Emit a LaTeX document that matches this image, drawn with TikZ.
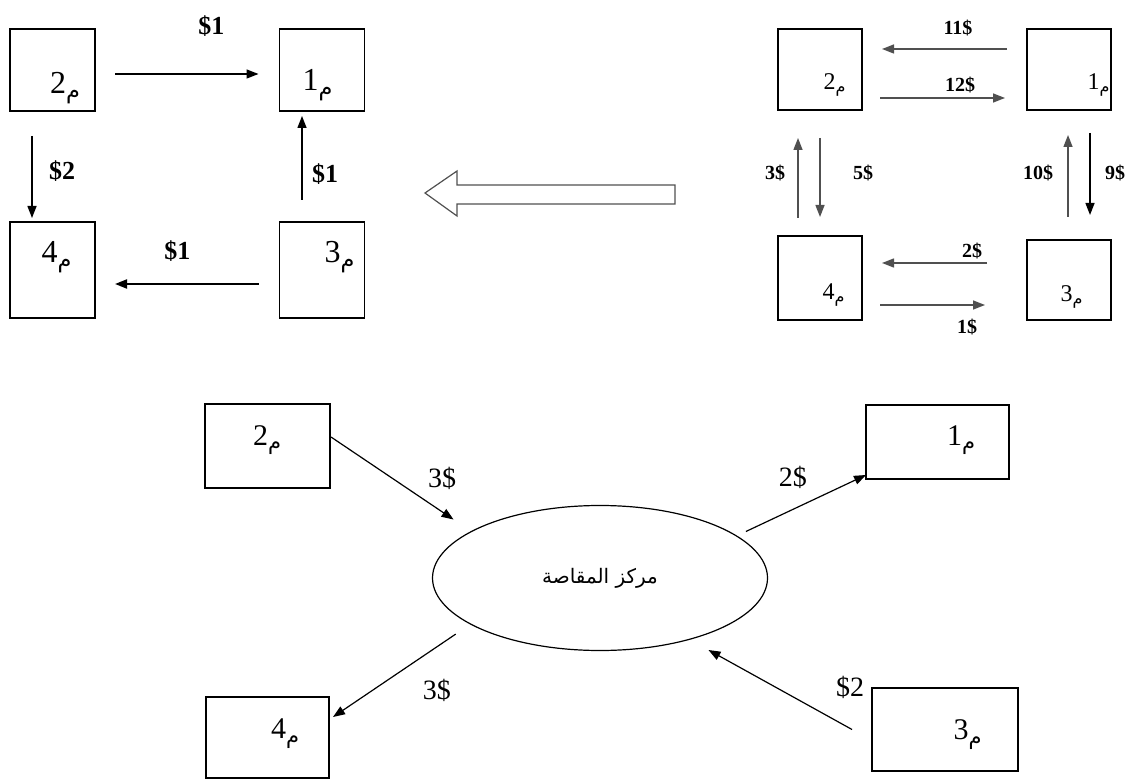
\documentclass[tikz,border=0pt]{standalone}
\usepackage{amsmath}
\usepackage{fontspec}
\setmainfont{Liberation Serif}
\newfontfamily\arabicfont[Script=Arabic]{DejaVu Sans}
\TeXXeTstate=1
\usetikzlibrary{positioning,arrows.meta,shapes.geometric}
\definecolor{arrcol}{RGB}{80,80,80}
\newcommand\mlab[1]{#1$_{\text{\arabicfont م}}$}

\begin{document}
\begin{tikzpicture}[x=0.5pt, y=-0.5pt,
  box/.style 2 args={rectangle, draw, line width=0.8pt, inner sep=0pt, outer sep=0pt,
              minimum width=#1, minimum height=#2},
  ar/.style={-{Triangle[length=6pt,width=4.5pt]}, line width=0.7pt, #1},
  lb/.style={inner sep=0pt, text=black, font=#1}
]
\useasboundingbox (0,0) rectangle (1134,780);

% left: netting result
\node[box={42.5pt}{41pt}, label={[lb=\fontsize{16}{18}\selectfont, shift={(13,18)}]center:\mlab{2}}] (l2) at (52.5,70) {};
\node[box={42.5pt}{41pt}, label={[lb=\fontsize{16}{18}\selectfont, shift={(-4,15)}]center:\mlab{1}}] (l1) at (322,70) {};
\node[box={42.5pt}{48pt}, label={[lb=\fontsize{16}{18}\selectfont, shift={(4.5,-13)}]center:\mlab{4}}] (l4) at (52.5,270) {};
\node[box={42.5pt}{48pt}, label={[lb=\fontsize{16}{18}\selectfont, shift={(18,-13)}]center:\mlab{3}}] (l3) at (322,270) {};

\draw[ar=black] ([shift={(20,4)}]l2.east) -- node[lb=\fontsize{13}{15}\selectfont\bfseries, shift={(24.5,-48)}] {\$1} ([shift={(-21,4)}]l1.west);
\draw[ar=black] ([shift={(-20.5,25)}]l2.south) -- node[lb=\fontsize{13}{15}\selectfont\bfseries, shift={(30,-6)}] {\$2} ([shift={(-20.5,-4)}]l4.north);
\draw[ar=black] ([shift={(-20,-22)}]l3.north) -- node[lb=\fontsize{13}{15}\selectfont\bfseries, shift={(23,16)}] {\$1} ([shift={(-20,5)}]l1.south);
\draw[ar=black, line width=1pt] ([shift={(-21,14)}]l3.west) -- node[lb=\fontsize{13}{15}\selectfont\bfseries, shift={(-9.5,-33)}] {\$1} ([shift={(20,14)}]l4.east);

% hollow arrow
\draw[arrcol, line width=0.6pt] (675,185) -- (457,185) -- (457,171) -- (425,193)
  -- (457,216) -- (457,204) -- (675,204) -- cycle;

% right: gross payments
\node[box={42pt}{40.5pt}, label={[lb=\fontsize{12}{14}\selectfont, shift={(15,15.5)}]center:\mlab{2}}] (r2) at (820,69.5) {};
\node[box={42pt}{40.5pt}, label={[lb=\fontsize{12}{14}\selectfont, shift={(30,15.5)}]center:\mlab{1}}] (r1) at (1069,69.5) {};
\node[box={42pt}{42pt}, label={[lb=\fontsize{12}{14}\selectfont, shift={(14,17)}]center:\mlab{4}}] (r4) at (820,278) {};
\node[box={42pt}{40pt}, label={[lb=\fontsize{12}{14}\selectfont, shift={(3,17)}]center:\mlab{3}}] (r3) at (1069,280) {};

\draw[ar=arrcol] ([shift={(-20,-20.5)}]r1.west) -- node[lb=\fontsize{10}{12}\selectfont\bfseries, shift={(13.5,-21)}] {11\$} ([shift={(20,-20.5)}]r2.east);
\draw[ar=arrcol] ([shift={(18,28.5)}]r2.east) -- node[lb=\fontsize{10}{12}\selectfont\bfseries, shift={(17.5,-13)}] {12\$} ([shift={(-22,28.5)}]r1.west);
\draw[ar=arrcol] ([shift={(-22,-18)}]r4.north) -- node[lb=\fontsize{10}{12}\selectfont\bfseries, shift={(-23,-5)}] {3\$} ([shift={(-22,28)}]r2.south);
\draw[ar=arrcol] ([shift={(0,28)}]r2.south) -- node[lb=\fontsize{10}{12}\selectfont\bfseries, shift={(43,-4.5)}] {5\$} ([shift={(0,-19)}]r4.north);
\draw[ar=arrcol] ([shift={(-1,-23)}]r3.north) -- node[lb=\fontsize{10}{12}\selectfont\bfseries, shift={(-30,-3)}] {10\$} ([shift={(-1,25)}]r1.south);
\draw[ar=black] ([shift={(21,23)}]r1.south) -- node[lb=\fontsize{10}{12}\selectfont\bfseries, shift={(25,-1)}] {9\$} ([shift={(21,-25)}]r3.north);
\draw[ar=arrcol] ([shift={(-40,-17)}]r3.west) -- node[lb=\fontsize{10}{12}\selectfont\bfseries, pos=0, shift={(-15,-12)}] {2\$} ([shift={(20,-15)}]r4.east);
\draw[ar=arrcol] ([shift={(18,27)}]r4.east) -- node[lb=\fontsize{10}{12}\selectfont\bfseries, pos=1, shift={(-18,22)}] {1\$} ([shift={(-42,25)}]r3.west);

% bottom: clearing house
\node[ellipse, draw, line width=0.6pt, inner sep=0pt, outer sep=0pt,
      minimum width=167.5pt, minimum height=72.5pt] (ctr) at (600,578)
      {\arabicfont\fontsize{10}{12}\selectfont\beginR مركز المقاصة\endR};
\node[box={62.5pt}{42pt}, label={[lb=\fontsize{15}{17}\selectfont, shift={(0,-6)}]center:\mlab{2}}] (b2) at (267.5,446) {};
\node[box={71.5pt}{37pt}, label={[lb=\fontsize{15}{17}\selectfont, shift={(24,-2)}]center:\mlab{1}}] (b1) at (937.5,442) {};
\node[box={61.5pt}{40.5pt}, label={[lb=\fontsize{15}{17}\selectfont, shift={(18,-4)}]center:\mlab{4}}] (b4) at (267.5,737.5) {};
\node[box={73pt}{41.5pt}, label={[lb=\fontsize{15}{17}\selectfont, shift={(23,5)}]center:\mlab{3}}] (b3) at (945,729.5) {};

\draw[ar={black,line width=0.6pt}] ([shift={(1,-9)}]b2.east) -- node[lb=\fontsize{14}{16}\selectfont, pos=.8, shift={(13,-25)}] {3\$} ([shift={(-24,-9)}]ctr.158);
\draw[ar={black,line width=0.6pt}] ([shift={(12,-3)}]ctr.18) -- node[lb=\fontsize{14}{16}\selectfont, pos=.4, shift={(-1,-31)}] {2\$} ([shift={(0,-4)}]b1.south west);
\draw[ar={black,line width=0.6pt}] ([shift={(-19,8)}]ctr.201) -- node[lb=\fontsize{14}{16}\selectfont, pos=.3, shift={(18,31)}] {3\$} ([shift={(4,20)}]b4.north east);
\draw[ar={black,line width=0.6pt}] ([shift={(-20,0)}]b3.west) -- node[lb=\fontsize{14}{16}\selectfont, pos=0, shift={(-2,-42)}] {\$2} ([shift={(18,11)}]ctr.-34);
\end{tikzpicture}
\end{document}
